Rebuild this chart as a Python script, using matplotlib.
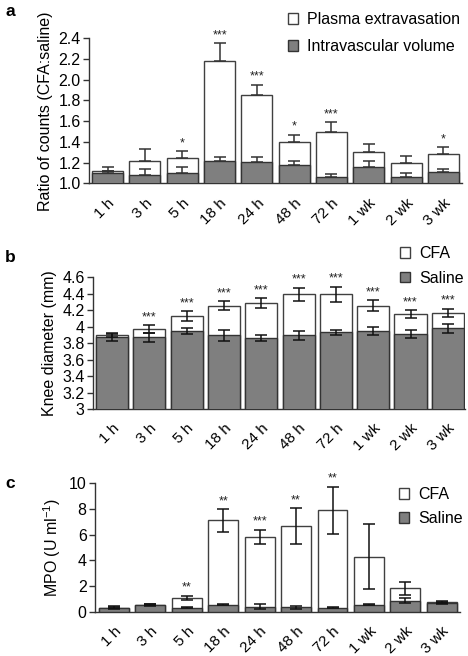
import matplotlib
matplotlib.use("Agg")
import matplotlib.pyplot as plt
from matplotlib.patches import Patch
import numpy as np

plt.rcParams['font.family'] = ['Liberation Sans', 'DejaVu Sans']

cats = ['1 h', '3 h', '5 h', '18 h', '24 h', '48 h', '72 h', '1 wk', '2 wk', '3 wk']

# Panel a
a_total = [1.12, 1.22, 1.24, 2.18, 1.85, 1.40, 1.50, 1.30, 1.20, 1.28]
a_total_err = [0.04, 0.11, 0.07, 0.17, 0.10, 0.07, 0.09, 0.08, 0.06, 0.07]
a_intra = [1.10, 1.08, 1.10, 1.22, 1.21, 1.18, 1.06, 1.16, 1.06, 1.11]
a_intra_err = [0.02, 0.06, 0.06, 0.03, 0.04, 0.04, 0.03, 0.06, 0.04, 0.03]
a_sig = ['', '', '*', '***', '***', '*', '***', '', '', '*']
a_ticks = [1.0, 1.2, 1.4, 1.6, 1.8, 2.0, 2.2, 2.4]
a_ticklabels = ['1.0', '1.2', '1.4', '1.6', '1.8', '2.0', '2.2', '2.4']

# Panel b
b_cfa = [3.90, 3.97, 4.13, 4.255, 4.285, 4.395, 4.395, 4.255, 4.155, 4.17]
b_cfa_err = [0.02, 0.046, 0.06, 0.055, 0.06, 0.08, 0.09, 0.065, 0.047, 0.047]
b_sal = [3.87, 3.87, 3.944, 3.895, 3.866, 3.895, 3.93, 3.947, 3.91, 3.98]
b_sal_err = [0.04, 0.05, 0.035, 0.065, 0.035, 0.055, 0.035, 0.05, 0.05, 0.057]
b_sig = ['', '***', '***', '***', '***', '***', '***', '***', '***', '***']
b_ticks = [3, 3.2, 3.4, 3.6, 3.8, 4, 4.2, 4.4, 4.6]
b_ticklabels = ['3', '3.2', '3.4', '3.6', '3.8', '4', '4.2', '4.4', '4.6']

# Panel c
c_cfa = [0.31, 0.52, 1.04, 7.11, 5.83, 6.64, 7.89, 4.27, 1.82, 0.73]
c_cfa_err = [0.05, 0.05, 0.18, 0.87, 0.55, 1.41, 1.86, 2.53, 0.50, 0.05]
c_sal = [0.28, 0.50, 0.31, 0.52, 0.39, 0.34, 0.29, 0.52, 0.83, 0.70]
c_sal_err = [0.12, 0.08, 0.05, 0.05, 0.18, 0.12, 0.03, 0.03, 0.20, 0.15]
c_sig = ['', '', '**', '**', '***', '**', '**', '', '', '']
c_ticks = [0, 2, 4, 6, 8, 10]

GRAY = '#7f7f7f'
EDGE = '#333333'

fig = plt.figure(figsize=(4.68, 6.56), dpi=100)


def panel(rect, top, top_err, bot, bot_err, sig, ylim, ticks, ticklabels,
          ylabel, xlim, width, one_sided, labels, leg_anchor, leg_spacing):
    ax = fig.add_axes(rect)
    x = np.arange(len(cats))
    ax.bar(x, top, width=width, color='white', edgecolor='#404040', lw=1.0, zorder=1)
    if one_sided:
        ax.errorbar(x, top, yerr=[np.zeros(len(x)), top_err], fmt='none',
                    ecolor='#333333', elinewidth=1.1, capsize=4.2, capthick=1.1, zorder=2)
    ax.bar(x, bot, width=width, color=GRAY, edgecolor=EDGE, lw=1.0, zorder=3)
    if one_sided:
        ax.errorbar(x, bot, yerr=[np.zeros(len(x)), bot_err], fmt='none',
                    ecolor='#333333', elinewidth=1.1, capsize=4.2, capthick=1.1, zorder=4)
    else:
        ax.errorbar(x, top, yerr=top_err, fmt='none', ecolor='#111111',
                    elinewidth=1.1, capsize=4.5, capthick=1.1, zorder=4)
        ax.errorbar(x, bot, yerr=bot_err, fmt='none', ecolor='#111111',
                    elinewidth=1.1, capsize=4.5, capthick=1.1, zorder=4)
    for i, s in enumerate(sig):
        if s:
            ax.annotate(s, xy=(i, top[i] + top_err[i]), xytext=(0, 1.5),
                        textcoords='offset points', ha='center', va='bottom',
                        fontsize=9, color='#222222')
    ax.set_xlim(*xlim)
    ax.set_ylim(*ylim)
    ax.set_yticks(ticks)
    ax.set_yticklabels(ticklabels)
    ax.set_xticks(x)
    ax.set_xticklabels(cats, rotation=45, ha='right', rotation_mode='anchor')
    ax.tick_params(axis='x', length=0, pad=9, labelsize=11)
    ax.tick_params(axis='y', length=4, width=1, direction='out', pad=2,
                   labelsize=11.5, color='#333333')
    for s in ['top', 'right']:
        ax.spines[s].set_visible(False)
    for s in ['left', 'bottom']:
        ax.spines[s].set_color('#333333')
        ax.spines[s].set_linewidth(1.0)
    ax.set_ylabel(ylabel, fontsize=11.5, labelpad=4)
    handles = [Patch(facecolor='white', edgecolor='#404040', lw=1.0),
               Patch(facecolor=GRAY, edgecolor=EDGE, lw=1.0)]
    ax.legend(handles, labels, loc='upper left', bbox_to_anchor=leg_anchor,
              bbox_transform=fig.transFigure, frameon=False, fontsize=11.5,
              handlelength=0.65, handleheight=0.65, handletextpad=0.55,
              labelspacing=leg_spacing, borderpad=0, borderaxespad=0)
    return ax


axa = panel([89 / 468, 1 - 183.3 / 656, (462 - 89) / 468, (183.3 - 38.3) / 656],
            a_total, a_total_err, a_intra, a_intra_err, a_sig, (1.0, 2.4),
            a_ticks, a_ticklabels, 'Ratio of counts (CFA:saline)', (-0.5, 9.5), 0.83,
            True, ['Plasma extravasation', 'Intravascular volume'],
            (288 / 468, 1 - 12 / 656), 0.75)

axb = panel([93 / 468, 1 - 409 / 656, (465 - 93) / 468, (409 - 277.3) / 656],
            b_cfa, b_cfa_err, b_sal, b_sal_err, b_sig, (3, 4.6),
            b_ticks, b_ticklabels, 'Knee diameter (mm)', (-0.51, 9.46), 0.86,
            False, ['CFA', 'Saline'], (400 / 468, 1 - 246 / 656), 0.6)

axc = panel([95 / 468, 1 - 611.5 / 656, (460 - 95) / 468, (611.5 - 483.3) / 656],
            c_cfa, c_cfa_err, c_sal, c_sal_err, c_sig, (0, 10),
            c_ticks, [str(t) for t in c_ticks], 'MPO (U ml$^{\\mathregular{-1}}$)',
            (-0.52, 9.5), 0.82,
            False, ['CFA', 'Saline'], (399 / 468, 1 - 487 / 656), 0.55)

fig.text(5 / 468, 1 - 12 / 656, 'a', fontsize=12.5, fontweight='bold', va='center', ha='left')
fig.text(5 / 468, 1 - 258 / 656, 'b', fontsize=12.5, fontweight='bold', va='center', ha='left')
fig.text(5 / 468, 1 - 483 / 656, 'c', fontsize=12.5, fontweight='bold', va='center', ha='left')

fig.savefig('out.png', dpi=100)
